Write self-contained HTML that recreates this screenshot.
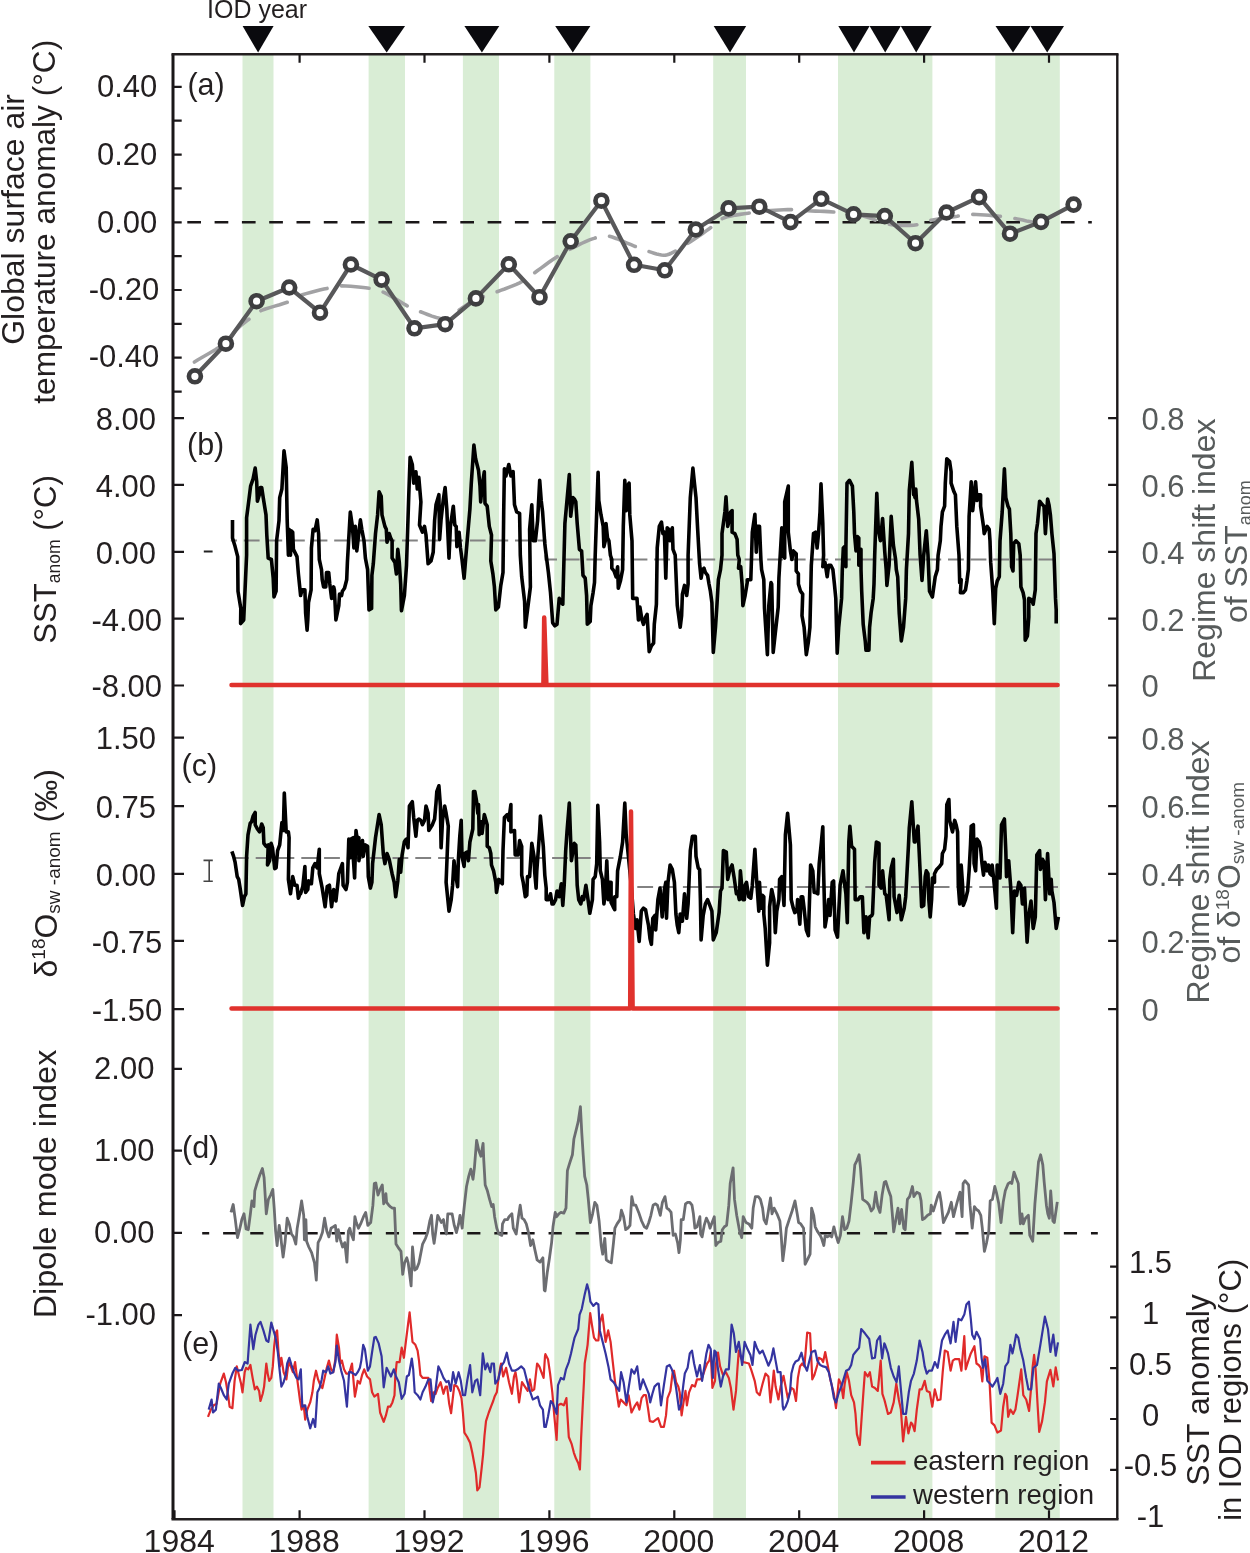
<!DOCTYPE html>
<html><head><meta charset="utf-8"><style>html,body{margin:0;padding:0;background:#fff;width:1250px;height:1553px;overflow:hidden;}svg{display:block;will-change:transform;}</style></head><body>
<svg width="1250" height="1553" viewBox="0 0 1250 1553">
<rect width="1250" height="1553" fill="#fff"/>
<rect x="242.5" y="54.3" width="31.0" height="1465.0" fill="#d9edd5"/>
<rect x="368.6" y="54.3" width="36.4" height="1465.0" fill="#d9edd5"/>
<rect x="462.9" y="54.3" width="36.1" height="1465.0" fill="#d9edd5"/>
<rect x="554.3" y="54.3" width="36.1" height="1465.0" fill="#d9edd5"/>
<rect x="713.2" y="54.3" width="32.8" height="1465.0" fill="#d9edd5"/>
<rect x="838.0" y="54.3" width="94.4" height="1465.0" fill="#d9edd5"/>
<rect x="995.3" y="54.3" width="64.5" height="1465.0" fill="#d9edd5"/>
<polygon points="242.6,26.1 273.6,26.1 258.1,52.6" fill="#0a0a0e"/>
<polygon points="368.3,26.1 405.1,26.1 386.7,52.6" fill="#0a0a0e"/>
<polygon points="464.4,26.1 499.3,26.1 481.9,52.6" fill="#0a0a0e"/>
<polygon points="555.2,26.1 590.4,26.1 572.8,52.6" fill="#0a0a0e"/>
<polygon points="713.7,26.1 746.2,26.1 730.0,52.6" fill="#0a0a0e"/>
<polygon points="838.3,26.1 869.6,26.1 854.0,52.6" fill="#0a0a0e"/>
<polygon points="869.6,26.1 900.8,26.1 885.2,52.6" fill="#0a0a0e"/>
<polygon points="900.8,26.1 931.7,26.1 916.2,52.6" fill="#0a0a0e"/>
<polygon points="995.5,26.1 1030.5,26.1 1013.0,52.6" fill="#0a0a0e"/>
<polygon points="1030.5,26.1 1064,26.1 1047.2,52.6" fill="#0a0a0e"/>
<line x1="187.3" y1="222.2" x2="1091.8" y2="222.2" stroke="#1a1718" stroke-width="2.4" stroke-dasharray="13.7 13.6"/>
<path d="M194.4,362.0 L198.0,359.8 L203.2,356.8 L209.3,353.2 L215.6,349.5 L221.2,345.9 L225.6,342.8 L228.6,340.2 L230.6,337.9 L232.1,335.7 L233.4,333.6 L234.7,331.6 L236.4,329.6 L238.5,327.6 L240.7,325.7 L242.9,323.9 L245.2,322.1 L247.4,320.4 L249.6,318.8 L251.5,317.3 L253.2,315.8 L254.8,314.5 L256.6,313.1 L258.8,311.8 L261.6,310.4 L265.3,309.0 L269.8,307.6 L274.7,306.1 L279.6,304.7 L284.1,303.3 L288.0,302.0 L291.0,300.7 L293.3,299.5 L295.3,298.3 L297.2,297.1 L299.5,295.9 L302.4,294.8 L306.1,293.6 L310.4,292.4 L315.0,291.2 L319.6,290.1 L323.9,289.1 L327.6,288.3 L330.5,287.6 L332.7,287.0 L334.6,286.5 L336.6,286.2 L339.0,286.0 L342.0,285.9 L346.0,286.0 L350.7,286.3 L355.8,286.7 L360.9,287.2 L365.6,287.7 L369.6,288.3 L372.7,288.8 L375.1,289.2 L377.1,289.7 L379.1,290.3 L381.3,291.2 L384.0,292.4 L387.4,294.2 L391.3,296.4 L395.5,298.9 L399.6,301.4 L403.5,303.7 L406.8,305.6 L409.4,307.0 L411.5,308.1 L413.3,309.0 L415.2,309.8 L417.3,310.6 L420.0,311.6 L423.5,312.9 L427.6,314.5 L431.9,316.1 L436.3,317.5 L440.4,318.5 L444.0,318.8 L446.9,318.3 L449.4,317.2 L451.7,315.7 L453.8,313.9 L456.0,312.1 L458.4,310.4 L461.0,308.8 L463.6,307.0 L466.2,305.2 L469.0,303.4 L471.9,301.6 L475.0,300.0 L478.3,298.5 L481.8,297.2 L485.5,295.9 L489.3,294.6 L493.0,293.3 L496.8,291.9 L500.6,290.4 L504.6,289.0 L508.7,287.4 L512.6,285.9 L516.3,284.4 L519.6,282.8 L522.4,281.3 L524.7,279.9 L526.8,278.4 L528.9,276.9 L531.2,275.2 L534.0,273.2 L537.3,270.8 L541.0,268.1 L544.9,265.2 L548.9,262.3 L552.9,259.5 L556.8,256.9 L560.7,254.5 L564.7,252.2 L568.7,250.0 L572.6,247.9 L576.3,246.1 L579.6,244.4 L582.5,243.0 L585.0,241.8 L587.3,240.8 L589.5,239.9 L591.7,239.1 L594.0,238.4 L596.3,237.6 L598.4,236.9 L600.5,236.2 L602.7,235.7 L605.3,235.6 L608.4,236.0 L612.2,237.0 L616.8,238.7 L621.6,240.7 L626.4,242.8 L631.0,244.7 L634.8,246.3 L637.9,247.5 L640.5,248.5 L642.8,249.4 L644.8,250.1 L646.9,250.9 L649.2,251.6 L651.6,252.4 L654.1,253.2 L656.6,254.0 L659.1,254.6 L661.4,255.0 L663.6,255.2 L665.6,255.1 L667.3,254.8 L668.9,254.2 L670.6,253.5 L672.4,252.6 L674.4,251.6 L676.7,250.4 L679.1,249.0 L681.7,247.4 L684.4,245.7 L687.1,243.9 L690.0,242.0 L693.0,240.0 L696.3,237.8 L699.7,235.5 L703.0,233.2 L706.2,230.9 L709.2,228.8 L711.8,226.8 L714.0,224.8 L716.1,222.9 L718.2,221.1 L720.7,219.4 L723.6,218.0 L727.1,216.8 L731.2,215.9 L735.5,215.1 L739.9,214.4 L744.1,213.8 L748.0,213.2 L751.4,212.6 L754.6,212.2 L757.6,211.8 L760.6,211.4 L763.8,211.1 L767.2,210.8 L771.0,210.5 L775.1,210.2 L779.4,210.0 L783.6,209.8 L787.6,209.6 L791.2,209.6 L794.3,209.7 L797.0,209.8 L799.5,210.0 L802.0,210.3 L804.8,210.6 L808.0,210.8 L811.7,211.0 L815.6,211.1 L819.8,211.2 L824.1,211.4 L828.6,211.6 L833.2,212.0 L838.0,212.5 L843.1,213.0 L848.3,213.6 L853.5,214.3 L858.5,215.1 L863.2,216.0 L867.5,217.2 L871.6,218.6 L875.4,220.2 L879.2,221.7 L883.1,223.0 L887.2,224.0 L891.6,224.7 L896.2,225.1 L900.9,225.4 L905.4,225.5 L909.7,225.4 L913.6,225.2 L916.9,224.7 L919.6,224.0 L922.2,223.1 L924.6,222.1 L927.3,221.2 L930.4,220.4 L934.1,219.7 L938.2,219.1 L942.5,218.5 L946.8,217.9 L950.9,217.3 L954.4,216.8 L957.2,216.3 L959.6,215.8 L961.6,215.3 L963.6,214.9 L966.0,214.6 L968.8,214.4 L972.3,214.4 L976.3,214.5 L980.5,214.7 L984.9,215.0 L989.0,215.3 L992.8,215.6 L996.2,215.9 L999.3,216.2 L1002.2,216.6 L1005.1,217.0 L1008.1,217.4 L1011.2,217.9 L1014.8,218.5 L1018.7,219.3 L1022.8,220.1 L1026.5,220.9 L1029.7,221.5 L1032.0,222.0" fill="none" stroke="#a2a2a4" stroke-width="3.6" stroke-dasharray="27.7 14.7" stroke-linecap="round"/>
<path d="M194.9,376.3 L225.9,343.7 L256.6,301.2 L289.2,287.5 L320.0,312.7 L350.9,264.5 L381.6,279.6 L414.5,328.3 L445.2,324.2 L475.9,298.4 L508.8,264.3 L539.5,297.2 L570.7,241.3 L601.4,200.7 L634.1,264.8 L664.8,270.3 L695.8,229.5 L728.6,208.4 L759.3,206.7 L790.5,222.1 L821.2,198.8 L853.6,214.4 L884.8,216.1 L915.5,243.2 L946.5,212.5 L979.1,197.1 L1010.0,233.7 L1041.0,221.9 L1073.6,204.6" fill="none" stroke="#58585a" stroke-width="4.2" stroke-linejoin="round"/>
<circle cx="194.9" cy="376.3" r="5.95" fill="#fff" stroke="#3e3e40" stroke-width="4.7"/>
<circle cx="225.9" cy="343.7" r="5.95" fill="#fff" stroke="#3e3e40" stroke-width="4.7"/>
<circle cx="256.6" cy="301.2" r="5.95" fill="#fff" stroke="#3e3e40" stroke-width="4.7"/>
<circle cx="289.2" cy="287.5" r="5.95" fill="#fff" stroke="#3e3e40" stroke-width="4.7"/>
<circle cx="320" cy="312.7" r="5.95" fill="#fff" stroke="#3e3e40" stroke-width="4.7"/>
<circle cx="350.9" cy="264.5" r="5.95" fill="#fff" stroke="#3e3e40" stroke-width="4.7"/>
<circle cx="381.6" cy="279.6" r="5.95" fill="#fff" stroke="#3e3e40" stroke-width="4.7"/>
<circle cx="414.5" cy="328.3" r="5.95" fill="#fff" stroke="#3e3e40" stroke-width="4.7"/>
<circle cx="445.2" cy="324.2" r="5.95" fill="#fff" stroke="#3e3e40" stroke-width="4.7"/>
<circle cx="475.9" cy="298.4" r="5.95" fill="#fff" stroke="#3e3e40" stroke-width="4.7"/>
<circle cx="508.8" cy="264.3" r="5.95" fill="#fff" stroke="#3e3e40" stroke-width="4.7"/>
<circle cx="539.5" cy="297.2" r="5.95" fill="#fff" stroke="#3e3e40" stroke-width="4.7"/>
<circle cx="570.7" cy="241.3" r="5.95" fill="#fff" stroke="#3e3e40" stroke-width="4.7"/>
<circle cx="601.4" cy="200.7" r="5.95" fill="#fff" stroke="#3e3e40" stroke-width="4.7"/>
<circle cx="634.1" cy="264.8" r="5.95" fill="#fff" stroke="#3e3e40" stroke-width="4.7"/>
<circle cx="664.8" cy="270.3" r="5.95" fill="#fff" stroke="#3e3e40" stroke-width="4.7"/>
<circle cx="695.8" cy="229.5" r="5.95" fill="#fff" stroke="#3e3e40" stroke-width="4.7"/>
<circle cx="728.6" cy="208.4" r="5.95" fill="#fff" stroke="#3e3e40" stroke-width="4.7"/>
<circle cx="759.3" cy="206.7" r="5.95" fill="#fff" stroke="#3e3e40" stroke-width="4.7"/>
<circle cx="790.5" cy="222.1" r="5.95" fill="#fff" stroke="#3e3e40" stroke-width="4.7"/>
<circle cx="821.2" cy="198.8" r="5.95" fill="#fff" stroke="#3e3e40" stroke-width="4.7"/>
<circle cx="853.6" cy="214.4" r="5.95" fill="#fff" stroke="#3e3e40" stroke-width="4.7"/>
<circle cx="884.8" cy="216.1" r="5.95" fill="#fff" stroke="#3e3e40" stroke-width="4.7"/>
<circle cx="915.5" cy="243.2" r="5.95" fill="#fff" stroke="#3e3e40" stroke-width="4.7"/>
<circle cx="946.5" cy="212.5" r="5.95" fill="#fff" stroke="#3e3e40" stroke-width="4.7"/>
<circle cx="979.1" cy="197.1" r="5.95" fill="#fff" stroke="#3e3e40" stroke-width="4.7"/>
<circle cx="1010" cy="233.7" r="5.95" fill="#fff" stroke="#3e3e40" stroke-width="4.7"/>
<circle cx="1041" cy="221.9" r="5.95" fill="#fff" stroke="#3e3e40" stroke-width="4.7"/>
<circle cx="1073.6" cy="204.6" r="5.95" fill="#fff" stroke="#3e3e40" stroke-width="4.7"/>
<path d="M230.8,540.4 H545.4 V559.4 H1058" fill="none" stroke="#828282" stroke-width="2" stroke-dasharray="15.8 6.8" stroke-dashoffset="9.6"/>
<path d="M232.5,519.9 L232.5,519.9 L232.5,537.9 L235.1,546.6 L237.7,556.6 L238.0,591.2 L240.8,608.5 L240.6,623.6 L243.7,620.0 L246.6,555.2 L246.6,517.8 L249.2,497.6 L250.6,486.1 L253.1,478.9 L255.2,468.1 L256.7,481.8 L257.4,501.2 L259.3,494.7 L260.3,487.5 L261.7,487.5 L263.2,497.6 L266.0,514.9 L266.8,535.0 L268.2,558.1 L271.4,559.5 L273.2,578.2 L274.0,597.0 L276.1,591.2 L276.6,540.8 L279.0,520.6 L279.7,497.6 L281.9,489.0 L284.0,450.8 L286.2,467.4 L287.2,520.6 L288.4,555.2 L289.1,529.3 L290.5,555.2 L291.2,530.7 L292.7,532.2 L293.4,549.4 L297.0,556.6 L298.4,573.9 L300.6,595.5 L302.0,589.8 L304.9,589.8 L305.6,612.8 L307.1,630.1 L307.8,620.0 L308.5,602.7 L311.1,589.8 L311.4,548.0 L313.1,529.3 L315.0,530.7 L317.2,519.9 L318.6,533.6 L319.3,559.5 L321.5,569.6 L322.2,579.7 L323.6,586.9 L325.8,586.9 L326.5,572.5 L328.7,572.5 L329.8,584.0 L331.6,598.4 L333.7,586.9 L334.4,589.8 L335.9,620.0 L338.8,605.6 L339.5,594.1 L341.6,595.5 L342.4,591.2 L344.5,588.3 L346.7,579.7 L347.4,562.4 L348.8,537.9 L350.3,512.0 L352.4,526.4 L353.9,548.0 L355.3,526.4 L356.8,550.9 L358.9,532.2 L360.4,519.9 L361.8,529.3 L364.0,540.8 L365.4,558.1 L367.6,569.6 L369.0,609.9 L371.6,608.5 L371.9,575.4 L373.3,563.8 L375.5,533.6 L377.6,514.9 L379.1,491.8 L381.2,496.2 L382.0,514.9 L384.9,526.4 L386.3,529.3 L387.0,542.2 L389.2,533.6 L390.6,537.9 L392.1,540.8 L392.1,558.1 L394.9,562.4 L396.4,573.9 L397.8,549.4 L399.3,562.4 L400.7,584.0 L401.4,609.9 L401.5,610.7 L404.4,595.5 L406.5,565.3 L408.7,497.6 L410.1,457.3 L412.3,464.5 L413.7,483.2 L415.9,471.7 L417.3,489.0 L418.8,477.4 L420.9,501.9 L419.5,525.0 L422.4,532.2 L424.5,526.4 L426.0,535.0 L428.1,563.8 L431.0,561.0 L433.2,552.3 L434.6,520.6 L436.0,504.8 L438.9,494.7 L439.6,539.4 L441.1,519.2 L443.2,500.5 L445.1,487.5 L446.8,509.1 L449.0,558.1 L450.4,526.4 L453.3,506.2 L454.8,525.0 L456.2,526.4 L456.9,546.6 L459.1,532.2 L460.5,548.0 L462.0,559.5 L464.1,578.2 L465.6,559.5 L468.4,526.4 L469.9,509.1 L471.3,483.2 L473.9,445.0 L475.6,458.7 L478.5,470.2 L480.0,486.1 L480.7,501.9 L482.1,486.1 L484.3,471.7 L485.0,503.4 L487.2,506.2 L489.3,526.4 L491.5,535.0 L490.8,561.0 L492.9,573.9 L494.4,586.9 L495.8,609.9 L498.4,607.1 L500.8,585.4 L503.0,572.5 L503.7,512.0 L504.4,468.8 L505.9,476.0 L508.8,464.5 L510.9,476.0 L513.1,471.7 L514.5,504.8 L516.7,512.0 L519.6,513.4 L520.3,555.2 L521.7,576.8 L524.6,601.3 L525.3,627.2 L527.5,609.9 L530.4,586.9 L529.6,529.3 L531.8,504.8 L533.2,540.8 L535.4,540.8 L537.6,520.6 L539.7,480.3 L541.2,500.5 L542.6,512.0 L544.8,543.7 L546.2,555.2 L548.4,572.5 L550.5,592.6 L552.7,622.9 L554.9,625.8 L557.0,624.3 L559.2,598.4 L561.3,602.7 L562.8,604.2 L564.9,523.5 L569.3,474.6 L570.7,516.3 L572.9,497.6 L574.4,499.0 L575.8,501.9 L577.2,523.5 L579.4,549.4 L581.6,550.9 L583.0,575.4 L585.2,578.2 L586.6,595.5 L587.3,624.3 L590.2,621.5 L590.9,605.6 L593.1,592.6 L594.5,582.6 L595.2,555.2 L596.7,512.0 L598.1,472.4 L598.8,500.5 L601.0,514.9 L603.2,526.4 L603.9,546.6 L605.3,540.8 L606.0,523.5 L607.5,537.9 L608.9,540.8 L610.4,555.2 L611.8,559.5 L611.8,568.2 L614.0,571.0 L616.1,576.8 L617.6,566.7 L618.3,588.3 L620.4,581.1 L622.6,569.6 L623.3,526.4 L624.8,480.3 L626.2,510.6 L627.6,486.1 L629.1,483.2 L629.8,514.9 L632.0,540.8 L632.7,598.4 L635.6,598.4 L637.0,598.4 L638.4,620.0 L639.9,607.1 L642.0,620.0 L643.5,624.3 L645.6,617.1 L647.1,614.3 L649.2,651.7 L651.4,645.9 L653.6,643.1 L654.3,624.3 L656.4,604.2 L657.2,548.0 L659.3,526.4 L661.5,522.1 L662.9,533.6 L664.4,532.2 L665.8,578.2 L667.2,527.8 L668.7,529.3 L670.1,540.8 L672.3,527.8 L673.0,549.4 L675.2,555.2 L677.3,605.6 L680.2,627.2 L681.6,615.7 L682.4,594.1 L684.5,585.4 L686.7,595.5 L688.1,584.0 L688.1,555.2 L690.3,497.6 L692.9,468.1 L694.6,484.6 L696.0,497.6 L697.5,526.4 L699.6,563.8 L701.1,578.2 L702.5,569.6 L704.0,568.2 L705.4,572.5 L707.6,575.4 L709.0,584.0 L710.4,591.2 L711.9,602.7 L713.3,652.4 L715.5,627.2 L716.9,605.6 L718.4,579.7 L720.5,569.6 L722.0,555.2 L722.0,533.6 L724.9,512.0 L726.0,496.9 L727.7,526.4 L729.2,520.6 L730.6,512.0 L732.1,510.6 L732.1,532.2 L734.9,533.6 L737.1,539.4 L737.8,555.2 L739.3,559.5 L738.5,568.2 L740.7,566.7 L742.1,584.0 L742.9,605.6 L745.1,595.5 L747.2,582.6 L747.2,579.7 L750.8,579.7 L751.6,555.2 L752.3,532.2 L754.9,514.2 L756.3,552.3 L757.3,526.4 L759.5,526.4 L760.9,559.5 L761.6,569.6 L763.8,579.7 L764.5,608.5 L767.4,654.6 L768.8,605.6 L771.0,582.6 L771.7,584.0 L773.2,652.4 L775.3,633.0 L778.2,607.1 L778.9,578.2 L781.8,527.8 L782.5,555.2 L784.7,558.1 L784.7,501.9 L788.3,486.1 L788.3,532.2 L790.4,550.9 L791.9,559.5 L793.3,550.9 L796.2,553.8 L796.2,571.0 L798.4,573.9 L798.4,584.0 L800.5,591.2 L802.7,594.1 L802.0,615.7 L804.1,627.2 L806.3,654.6 L808.4,641.6 L809.9,627.2 L810.6,598.4 L811.3,565.3 L813.5,533.6 L815.6,532.2 L817.1,548.0 L818.5,533.6 L820.0,512.0 L821.0,483.9 L822.8,523.5 L823.6,555.2 L822.8,566.7 L825.0,562.4 L827.2,576.8 L828.6,565.3 L830.8,565.3 L832.9,569.6 L834.4,584.0 L835.8,598.4 L836.5,627.2 L837.2,653.1 L838.7,627.2 L841.6,598.4 L842.3,569.6 L843.3,548.0 L844.7,546.6 L845.9,566.7 L845.9,546.6 L847.0,483.2 L849.5,480.3 L852.4,486.1 L853.8,512.0 L854.5,533.6 L856.0,550.9 L857.4,536.5 L858.8,537.9 L858.8,565.3 L861.0,549.4 L861.0,569.6 L861.7,591.2 L863.2,624.3 L865.3,641.6 L866.0,650.3 L868.9,650.3 L869.6,627.2 L871.1,612.8 L873.2,598.4 L874.0,584.0 L874.7,555.2 L876.8,493.3 L878.3,529.3 L880.4,540.8 L882.6,518.5 L884.8,552.3 L886.2,569.6 L886.9,585.4 L889.1,565.3 L891.2,516.3 L893.4,545.1 L895.6,559.5 L896.3,569.6 L897.7,576.8 L899.2,612.8 L901.3,640.9 L903.5,627.2 L905.7,598.4 L906.4,569.6 L908.5,533.6 L909.3,490.4 L911.8,462.3 L913.6,494.7 L913.6,493.3 L915.1,497.6 L915.8,489.0 L916.5,500.5 L918.7,519.2 L920.1,555.2 L922.0,580.4 L923.7,555.2 L926.3,530.7 L928.0,555.2 L929.5,591.2 L932.4,597.0 L935.2,576.8 L937.4,569.6 L938.1,555.2 L940.3,540.8 L941.0,526.4 L942.4,512.0 L944.6,506.2 L945.3,483.2 L946.8,458.7 L949.6,461.6 L951.1,471.7 L951.1,483.2 L954.0,491.8 L955.4,494.7 L956.8,526.4 L959.0,555.2 L959.7,582.6 L961.2,579.7 L960.4,592.6 L963.3,592.6 L965.5,589.8 L966.9,581.1 L968.4,569.6 L969.1,516.3 L971.2,481.8 L972.7,510.6 L975.6,481.8 L977.0,500.5 L978.4,494.7 L980.6,494.7 L980.6,506.2 L983.5,526.4 L984.2,533.6 L987.1,526.4 L989.2,529.3 L990.0,540.8 L990.7,562.4 L992.8,591.2 L994.3,623.6 L995.7,588.3 L997.2,581.1 L999.3,576.8 L1000.0,540.8 L1002.2,512.0 L1004.4,468.8 L1005.8,497.6 L1008.0,506.2 L1009.4,509.1 L1010.8,533.6 L1011.6,566.7 L1013.0,571.0 L1013.7,543.7 L1015.9,540.8 L1018.8,543.7 L1020.2,555.2 L1020.9,586.9 L1023.1,592.6 L1024.5,599.9 L1025.2,640.2 L1027.4,635.9 L1028.8,617.1 L1028.8,598.4 L1031.7,599.9 L1033.2,604.2 L1035.3,589.8 L1036.0,533.6 L1037.5,523.5 L1039.6,501.2 L1042.5,504.8 L1044.0,506.2 L1045.4,533.6 L1046.1,522.1 L1047.6,499.0 L1049.0,504.8 L1050.4,514.9 L1051.9,533.6 L1054.0,553.8 L1055.5,598.4 L1056.2,609.9 L1056.2,623.6" fill="none" stroke="#000" stroke-width="3.6" stroke-linejoin="round"/>
<path d="M231.5,685.1 H543.4 L544.2,617.6 L546.4,685.1 H1057.6" fill="none" stroke="#e0322d" stroke-width="4.5" stroke-linecap="round" stroke-linejoin="round"/>
<line x1="203.8" y1="551.5" x2="212.6" y2="551.5" stroke="#222" stroke-width="2"/>
<path d="M232.9,858.1 H631 V886.9 H1058" fill="none" stroke="#828282" stroke-width="2" stroke-dasharray="15.8 7"/>
<path d="M231.9,851.4 L231.9,851.4 L233.6,856.4 L235.1,862.2 L237.2,876.6 L238.7,879.4 L240.1,888.1 L242.6,905.4 L244.4,896.7 L245.9,893.8 L246.6,856.4 L248.0,834.8 L250.2,823.3 L251.6,821.8 L253.1,816.1 L255.2,812.5 L255.2,824.7 L257.4,829.0 L259.6,831.9 L261.7,824.0 L263.2,827.6 L263.9,843.4 L266.0,846.3 L268.2,844.9 L267.5,865.0 L269.6,860.7 L271.1,843.4 L272.5,847.8 L274.7,868.6 L276.1,867.9 L277.6,850.6 L279.7,844.9 L281.9,822.6 L283.3,830.5 L284.3,793.0 L286.2,831.9 L288.4,831.9 L289.1,837.7 L288.4,879.4 L290.5,893.8 L292.7,876.6 L294.8,885.2 L297.0,885.2 L298.4,898.2 L299.9,893.8 L300.6,893.8 L302.8,886.6 L304.9,866.5 L305.6,892.4 L307.8,889.5 L308.5,880.9 L310.0,883.8 L311.4,883.8 L312.8,867.9 L315.0,863.6 L317.2,867.9 L319.3,849.2 L319.3,873.7 L322.2,888.1 L325.1,906.8 L327.2,886.6 L329.4,885.2 L331.6,906.8 L333.7,889.5 L335.9,901.0 L338.0,882.3 L338.8,873.7 L342.4,863.6 L343.1,885.2 L346.0,889.5 L347.4,882.3 L348.8,839.1 L350.3,857.8 L351.0,839.1 L353.2,837.7 L353.2,856.4 L354.6,878.0 L356.0,830.5 L357.5,842.0 L358.9,837.7 L358.9,860.7 L361.1,846.3 L362.5,840.6 L363.2,856.4 L365.4,844.9 L367.6,846.3 L368.3,876.6 L370.4,888.1 L371.9,882.3 L372.6,863.6 L375.5,837.7 L379.1,814.6 L381.2,824.7 L383.4,855.0 L384.9,863.6 L387.0,853.5 L389.2,859.3 L392.1,873.7 L394.2,882.3 L395.7,896.7 L397.8,880.9 L399.3,859.3 L400.7,872.2 L402.1,855.0 L404.3,842.0 L405.1,840.6 L406.5,839.1 L408.0,847.8 L408.7,827.6 L409.4,806.0 L412.3,801.7 L413.7,817.5 L415.9,836.2 L417.3,820.4 L418.8,819.0 L420.9,820.4 L422.4,824.7 L424.5,820.4 L426.0,806.0 L428.1,813.2 L428.8,830.5 L432.4,824.7 L434.6,819.0 L436.0,803.1 L436.8,791.6 L438.9,785.8 L440.4,806.0 L441.1,847.8 L442.5,820.4 L444.7,806.0 L446.1,813.2 L448.3,826.2 L446.1,882.3 L449.0,911.1 L451.2,899.6 L452.6,885.2 L454.0,860.7 L455.5,873.7 L457.6,886.6 L458.4,859.3 L459.8,836.2 L461.2,820.4 L462.0,856.4 L464.1,866.5 L464.8,853.5 L467.0,852.1 L468.4,860.7 L469.9,842.0 L472.8,829.0 L473.5,791.6 L474.9,791.6 L476.4,800.2 L477.8,813.2 L478.5,804.6 L479.2,834.8 L481.4,821.8 L482.1,833.4 L484.3,814.6 L487.2,824.7 L487.2,846.3 L489.3,847.8 L490.8,853.5 L491.5,865.0 L493.6,870.8 L495.8,882.3 L496.5,892.4 L498.7,879.4 L500.8,882.3 L502.3,883.8 L503.0,850.6 L504.4,817.5 L507.3,814.6 L508.8,820.4 L510.9,804.6 L510.9,831.9 L514.5,830.5 L515.2,855.0 L518.1,855.0 L519.6,840.6 L521.7,846.3 L521.7,875.1 L523.2,882.3 L525.3,896.7 L526.8,895.3 L527.5,876.6 L529.6,876.6 L531.8,843.4 L534.0,856.4 L534.7,872.2 L536.1,888.1 L536.8,870.8 L539.7,830.5 L540.4,816.1 L543.3,846.3 L544.8,875.1 L546.2,888.1 L546.2,899.6 L548.4,899.6 L550.5,893.8 L552.0,903.9 L553.4,903.9 L555.6,899.6 L557.0,891.0 L559.2,896.7 L561.3,883.8 L562.8,905.4 L564.2,885.2 L565.7,850.6 L567.1,830.5 L569.3,803.1 L571.4,860.7 L574.3,843.4 L575.8,844.9 L576.5,862.2 L577.2,885.2 L578.7,899.6 L580.8,903.9 L582.3,896.7 L583.7,899.6 L585.9,885.2 L588.0,899.6 L589.8,913.3 L592.4,899.6 L593.1,879.4 L595.2,876.6 L596.7,863.6 L597.8,805.3 L599.6,842.0 L600.3,870.8 L602.4,879.4 L603.9,903.9 L605.3,893.8 L606.8,860.7 L608.2,899.6 L609.6,882.3 L611.1,882.3 L611.1,902.5 L613.2,906.8 L614.7,909.7 L614.7,896.7 L616.8,896.7 L617.6,870.8 L619.0,863.6 L620.4,856.4 L622.6,842.0 L624.8,803.1 L626.2,834.8 L628.4,856.4 L631.2,885.2 L633.4,914.0 L635.6,928.4 L637.0,919.8 L639.2,941.4 L641.3,911.1 L643.5,908.2 L645.6,909.7 L647.1,918.3 L648.5,925.5 L650.0,938.5 L651.4,944.3 L652.8,918.3 L655.0,915.4 L655.7,929.9 L657.9,899.6 L660.0,888.1 L662.2,916.9 L664.4,889.5 L665.8,882.3 L666.5,918.3 L668.0,882.3 L670.1,865.0 L672.3,869.4 L674.4,882.3 L675.9,914.0 L677.3,925.5 L678.8,932.7 L680.2,914.0 L682.4,921.2 L684.5,893.8 L686.7,918.3 L688.1,903.9 L690.3,850.6 L692.4,836.2 L695.3,836.2 L696.0,856.4 L698.2,867.9 L699.6,869.4 L700.4,899.6 L701.1,939.9 L703.2,915.4 L705.4,903.9 L707.6,899.6 L710.4,906.8 L711.9,911.1 L713.3,939.9 L716.2,932.7 L719.1,912.6 L720.5,891.0 L722.0,888.1 L723.4,850.6 L726.3,852.1 L727.7,879.4 L729.9,869.4 L732.1,865.0 L734.2,878.0 L736.4,893.8 L737.8,892.4 L739.3,899.6 L740.4,870.8 L742.9,899.6 L744.4,899.6 L745.1,885.2 L746.5,882.3 L748.7,896.7 L750.8,898.2 L752.3,885.2 L754.9,849.2 L756.6,879.4 L758.8,911.1 L759.5,882.3 L760.9,908.2 L762.4,895.3 L763.8,896.7 L763.8,914.0 L765.2,928.4 L767.4,965.1 L769.6,942.8 L769.6,906.8 L771.7,889.5 L773.9,899.6 L775.3,932.7 L776.8,911.1 L778.9,899.6 L779.6,879.4 L781.8,876.6 L784.0,905.4 L785.4,834.8 L787.6,813.2 L789.0,829.0 L790.4,844.9 L791.2,899.6 L793.3,908.2 L794.8,912.6 L796.9,911.1 L797.6,899.6 L799.8,924.1 L801.2,896.7 L802.7,896.7 L804.1,908.2 L806.3,929.9 L808.4,935.6 L810.6,865.0 L812.8,870.8 L814.2,892.4 L815.6,892.4 L817.8,893.8 L819.2,863.6 L821.4,842.0 L822.8,826.9 L823.6,870.8 L825.0,927.0 L827.2,914.0 L828.6,899.6 L830.0,915.4 L832.2,882.3 L833.6,880.9 L835.1,929.9 L837.5,937.1 L840.1,885.2 L843.0,870.8 L844.4,882.3 L845.9,893.8 L847.3,922.6 L848.8,842.0 L849.9,826.2 L851.6,846.3 L854.5,849.2 L855.2,899.6 L858.1,899.6 L860.3,896.7 L862.4,896.7 L863.9,932.7 L866.0,916.9 L868.2,937.8 L869.6,916.9 L871.8,915.4 L872.5,914.0 L874.7,862.2 L876.4,842.0 L879.0,843.4 L879.0,885.2 L881.2,888.1 L882.6,870.8 L884.8,893.8 L886.2,895.3 L889.1,919.8 L889.8,879.4 L891.2,867.9 L893.4,859.3 L894.1,896.7 L897.0,912.6 L899.2,895.3 L901.3,919.8 L904.2,908.2 L905.7,896.7 L907.1,870.8 L908.5,844.9 L909.3,827.6 L911.8,801.7 L914.3,842.0 L915.1,842.0 L916.5,833.4 L918.0,826.2 L918.7,842.0 L920.1,870.8 L921.6,906.8 L923.7,905.4 L925.2,876.6 L926.3,870.8 L928.0,873.7 L928.8,899.6 L930.2,916.9 L931.6,899.6 L932.4,878.0 L934.5,882.3 L934.5,873.7 L936.7,869.4 L939.6,866.5 L941.7,863.6 L942.4,853.5 L944.6,849.2 L946.0,836.2 L946.8,804.6 L948.9,799.5 L949.6,820.4 L951.1,826.2 L952.5,831.9 L954.7,820.4 L956.1,824.7 L957.6,831.9 L958.3,885.2 L959.7,903.9 L961.2,865.0 L962.6,885.2 L963.3,905.4 L965.5,899.6 L967.6,891.0 L969.1,870.8 L970.5,844.9 L971.2,826.2 L973.4,824.7 L974.1,863.6 L975.6,870.8 L977.0,839.1 L979.2,842.0 L980.6,847.8 L982.0,863.6 L983.5,875.1 L984.9,862.2 L987.1,870.8 L988.5,865.0 L990.0,873.7 L991.4,875.1 L992.1,865.0 L993.6,878.0 L995.0,892.4 L996.4,908.2 L997.2,865.0 L1000.0,878.0 L1001.5,824.7 L1004.4,819.0 L1005.8,850.6 L1006.5,876.6 L1008.7,860.7 L1010.8,888.1 L1012.7,932.7 L1014.4,891.0 L1016.6,895.3 L1018.8,882.3 L1020.9,885.2 L1022.4,903.9 L1024.5,888.1 L1027.1,942.1 L1028.8,915.4 L1031.0,901.0 L1033.2,928.4 L1035.3,916.9 L1036.8,855.0 L1039.6,850.6 L1040.4,869.4 L1042.5,859.3 L1044.0,862.2 L1045.4,899.6 L1047.6,853.5 L1049.7,893.8 L1051.2,879.4 L1051.9,891.0 L1054.0,902.5 L1056.2,928.4 L1058.4,916.9" fill="none" stroke="#000" stroke-width="3.6" stroke-linejoin="round"/>
<path d="M231.5,1008.4 H630.2 L631.0,811.5 L632.6,1008.4 H1057.6" fill="none" stroke="#e0322d" stroke-width="4.5" stroke-linecap="round" stroke-linejoin="round"/>
<path d="M203.5,860.4 H212.8 M209.2,860.4 V881.3 M203.5,881.3 H212.8" stroke="#444" stroke-width="1.6" fill="none"/>
<line x1="202.2" y1="1233.3" x2="1097.8" y2="1233.3" stroke="#1a1718" stroke-width="2.4" stroke-dasharray="13.2 13.92" stroke-dashoffset="6.2"/>
<path d="M231.0,1212.4 L231.0,1212.4 L233.2,1204.5 L235.3,1219.6 L237.5,1237.6 L239.6,1229.7 L241.8,1219.6 L244.0,1213.8 L246.1,1229.0 L248.3,1229.7 L250.4,1213.8 L251.9,1200.9 L254.0,1206.6 L254.8,1190.8 L256.9,1183.6 L259.8,1175.0 L262.4,1168.5 L264.1,1177.8 L266.3,1213.8 L268.4,1199.4 L270.6,1195.1 L272.8,1189.4 L274.2,1208.1 L275.6,1231.1 L277.1,1245.5 L279.2,1225.4 L280.7,1235.4 L281.4,1242.6 L283.1,1257.1 L285.0,1242.6 L287.2,1218.2 L289.3,1223.9 L291.5,1234.0 L293.6,1236.9 L295.8,1244.1 L297.2,1228.2 L299.4,1215.3 L301.6,1200.9 L303.7,1215.3 L304.4,1239.8 L305.9,1219.6 L306.6,1241.2 L308.8,1247.0 L311.6,1252.7 L314.5,1262.8 L316.3,1280.1 L317.4,1255.6 L318.1,1242.6 L320.3,1238.3 L322.4,1232.6 L324.6,1218.2 L326.8,1231.1 L328.9,1236.9 L331.1,1228.2 L333.2,1226.8 L335.4,1225.4 L336.8,1241.2 L338.3,1229.7 L340.4,1239.8 L342.6,1247.0 L344.8,1242.6 L346.9,1262.1 L348.4,1231.1 L349.8,1228.2 L351.2,1234.0 L353.4,1239.8 L354.9,1216.7 L356.3,1222.5 L358.5,1228.2 L360.6,1223.9 L363.5,1216.7 L365.7,1212.4 L367.8,1225.4 L370.7,1222.5 L372.9,1205.2 L374.3,1183.6 L375.8,1182.9 L378.0,1195.1 L380.1,1189.4 L382.3,1185.0 L383.7,1203.8 L385.9,1193.7 L386.6,1202.3 L388.8,1205.2 L390.2,1206.6 L392.4,1208.1 L394.5,1208.1 L396.0,1244.1 L398.8,1248.4 L401.0,1251.3 L402.7,1274.3 L404.6,1262.8 L406.8,1257.8 L408.2,1262.8 L411.1,1285.9 L412.5,1247.0 L414.7,1270.0 L416.8,1268.6 L419.0,1262.8 L422.6,1244.1 L425.5,1238.3 L427.6,1232.6 L429.8,1221.0 L431.5,1215.3 L432.7,1234.0 L434.1,1243.4 L435.6,1232.6 L437.7,1215.3 L439.9,1219.6 L441.3,1222.5 L443.5,1219.6 L444.2,1225.4 L446.4,1234.0 L447.8,1213.8 L450.0,1213.8 L452.1,1213.8 L454.3,1225.4 L456.4,1232.6 L458.6,1223.9 L460.0,1215.3 L462.2,1228.2 L462.9,1219.6 L464.4,1205.2 L466.5,1186.5 L468.7,1176.4 L470.8,1169.2 L473.0,1179.3 L474.4,1167.8 L476.6,1140.4 L478.8,1150.5 L480.9,1156.2 L483.1,1143.3 L483.8,1160.6 L485.2,1185.0 L487.4,1190.8 L489.6,1199.4 L491.7,1206.6 L493.2,1204.5 L494.6,1216.7 L496.8,1228.2 L498.9,1234.0 L501.8,1235.4 L502.5,1223.9 L504.7,1219.6 L507.6,1219.6 L509.0,1216.7 L511.9,1213.8 L513.3,1228.2 L516.2,1234.0 L518.4,1216.7 L520.2,1205.2 L522.0,1218.2 L524.1,1219.6 L526.3,1223.9 L528.5,1232.6 L530.6,1245.5 L532.8,1239.8 L534.9,1249.9 L537.1,1259.9 L540.0,1262.1 L542.9,1257.8 L544.3,1290.2 L545.1,1290.9 L547.2,1272.9 L549.4,1258.5 L551.6,1242.6 L553.0,1226.8 L555.2,1212.4 L556.6,1216.7 L558.8,1213.8 L560.9,1212.4 L563.8,1213.1 L566.0,1208.1 L567.4,1170.6 L569.6,1163.4 L572.4,1154.8 L573.9,1139.0 L576.8,1127.4 L578.2,1121.7 L580.4,1106.6 L581.8,1133.2 L583.2,1154.8 L584.7,1176.4 L586.8,1185.0 L588.3,1199.4 L590.4,1222.5 L592.6,1213.8 L594.8,1202.3 L596.9,1205.2 L599.1,1221.0 L601.2,1245.5 L602.7,1254.2 L604.8,1238.3 L606.3,1259.9 L608.4,1261.4 L611.3,1262.8 L613.5,1242.6 L614.9,1228.2 L617.1,1223.9 L620.0,1219.6 L621.4,1210.2 L623.6,1216.7 L625.7,1229.7 L627.9,1228.2 L630.0,1225.4 L631.8,1196.6 L633.6,1205.2 L635.8,1205.2 L638.7,1212.4 L641.6,1221.0 L644.4,1226.8 L646.6,1228.2 L648.8,1222.5 L650.9,1215.3 L653.1,1205.2 L655.2,1203.8 L657.4,1205.2 L660.3,1215.3 L662.4,1202.3 L665.0,1196.6 L666.8,1208.1 L668.9,1209.5 L671.1,1212.4 L672.5,1228.2 L673.2,1235.4 L675.4,1234.0 L677.6,1242.6 L679.0,1252.7 L680.4,1239.8 L681.2,1219.6 L683.3,1219.6 L685.5,1203.8 L687.6,1202.3 L689.8,1202.3 L692.0,1205.2 L693.4,1213.8 L694.9,1228.2 L697.0,1226.8 L699.9,1216.7 L700.6,1234.0 L702.1,1236.9 L704.2,1225.4 L706.4,1218.2 L708.5,1222.5 L710.0,1228.2 L712.1,1222.5 L714.3,1216.7 L715.8,1245.5 L718.0,1242.6 L720.8,1241.2 L722.3,1229.7 L724.4,1226.8 L726.6,1225.4 L728.8,1205.2 L730.2,1183.6 L733.1,1167.8 L734.5,1199.4 L736.7,1215.3 L739.6,1231.1 L741.7,1237.6 L743.2,1216.7 L746.0,1222.5 L748.9,1223.9 L751.8,1228.2 L753.2,1208.1 L755.4,1196.6 L758.3,1196.6 L760.4,1199.4 L762.6,1208.1 L764.0,1219.6 L766.2,1223.9 L768.4,1211.0 L770.5,1198.0 L772.0,1213.8 L774.1,1208.1 L777.0,1213.8 L779.9,1221.0 L781.3,1236.9 L782.8,1260.7 L784.9,1244.1 L786.4,1228.2 L789.2,1219.6 L792.1,1211.0 L795.0,1200.9 L797.2,1213.8 L798.6,1222.5 L800.8,1223.9 L803.6,1228.2 L804.4,1248.4 L805.1,1264.3 L808.0,1258.5 L810.1,1254.2 L811.6,1208.1 L813.7,1215.3 L815.2,1226.8 L817.3,1231.1 L820.2,1235.4 L821.6,1238.3 L823.8,1245.5 L825.2,1235.4 L827.4,1236.9 L829.6,1235.4 L831.7,1236.9 L833.9,1226.8 L836.0,1235.4 L838.2,1242.6 L840.4,1235.4 L842.5,1216.7 L844.7,1229.7 L846.8,1228.2 L849.0,1221.0 L851.2,1202.3 L853.3,1182.2 L854.8,1164.9 L856.9,1160.6 L859.1,1154.8 L860.5,1167.8 L862.7,1199.4 L864.9,1200.9 L867.0,1202.3 L869.2,1205.2 L871.3,1211.0 L873.5,1208.1 L875.7,1192.2 L877.8,1206.6 L880.0,1212.4 L882.1,1195.1 L884.3,1182.2 L885.8,1181.4 L888.7,1190.8 L890.8,1196.6 L892.3,1213.8 L893.7,1231.8 L895.9,1219.6 L898.0,1208.1 L899.5,1223.9 L901.6,1209.5 L903.8,1228.2 L905.2,1229.7 L907.4,1199.4 L909.6,1196.6 L912.4,1186.5 L913.9,1196.6 L916.8,1192.2 L919.6,1193.7 L921.1,1200.9 L922.5,1219.6 L924.7,1218.2 L927.6,1215.3 L930.4,1213.8 L931.2,1205.2 L933.3,1211.0 L935.5,1203.8 L937.6,1196.6 L939.5,1192.2 L941.2,1202.3 L943.4,1222.5 L946.3,1216.7 L948.4,1212.4 L951.3,1202.3 L953.5,1216.7 L955.6,1208.1 L957.1,1202.3 L960.0,1192.2 L962.1,1216.7 L963.1,1183.6 L965.0,1180.7 L968.6,1185.0 L970.0,1205.2 L972.2,1228.2 L974.4,1206.6 L976.5,1209.5 L978.7,1211.0 L980.8,1215.3 L982.3,1228.2 L984.4,1251.3 L986.6,1242.6 L988.8,1231.1 L990.2,1200.9 L992.4,1199.4 L994.8,1186.5 L996.7,1193.7 L998.8,1203.8 L1001.0,1222.5 L1003.2,1202.3 L1005.3,1190.8 L1008.2,1183.6 L1010.4,1182.2 L1011.8,1183.6 L1014.0,1172.1 L1016.1,1177.8 L1018.3,1183.6 L1019.7,1213.8 L1020.4,1223.9 L1021.9,1213.8 L1023.3,1223.9 L1025.5,1218.2 L1028.4,1215.3 L1029.8,1235.4 L1032.7,1241.2 L1034.9,1203.8 L1037.0,1179.3 L1038.5,1162.0 L1040.6,1154.8 L1042.8,1164.9 L1044.2,1182.2 L1046.4,1205.2 L1047.8,1213.8 L1049.3,1218.2 L1050.7,1190.8 L1052.9,1221.0 L1054.3,1222.5 L1057.3,1201.9" fill="none" stroke="#6c6d71" stroke-width="2.8" stroke-linejoin="round"/>
<path d="M208.0,1416.8 L208.0,1416.8 L210.8,1409.6 L213.7,1405.3 L216.6,1403.8 L220.2,1383.7 L223.8,1373.6 L226.0,1382.2 L228.1,1395.2 L229.6,1406.7 L232.4,1408.2 L234.6,1380.8 L236.8,1366.4 L238.9,1375.0 L241.1,1383.7 L242.5,1392.3 L244.7,1372.2 L246.1,1367.8 L248.3,1369.3 L250.4,1365.0 L252.6,1377.9 L254.8,1389.4 L256.9,1386.6 L259.1,1390.9 L260.5,1401.0 L262.7,1393.8 L264.1,1386.6 L266.3,1363.5 L267.7,1373.6 L269.2,1380.8 L271.3,1377.9 L272.8,1366.4 L274.2,1346.2 L275.6,1333.3 L277.1,1330.4 L278.5,1352.0 L280.0,1366.4 L281.4,1357.8 L283.6,1372.2 L286.4,1379.4 L288.6,1362.1 L290.8,1366.4 L292.9,1372.2 L295.1,1362.1 L296.5,1373.6 L298.0,1385.1 L300.1,1401.0 L301.6,1409.6 L303.7,1405.3 L305.2,1419.7 L307.3,1409.6 L310.2,1402.4 L312.4,1392.3 L313.8,1380.8 L316.0,1370.7 L318.1,1379.4 L320.3,1385.1 L322.4,1388.0 L324.6,1377.9 L326.8,1367.8 L328.9,1360.6 L331.1,1369.3 L333.2,1372.2 L335.4,1359.2 L336.8,1334.7 L339.0,1347.7 L340.4,1363.5 L341.9,1360.6 L344.0,1369.3 L346.2,1373.6 L349.1,1373.6 L352.0,1363.5 L354.9,1396.6 L356.3,1389.4 L357.7,1380.8 L359.9,1383.7 L362.1,1375.0 L364.2,1369.3 L367.1,1376.5 L370.0,1379.4 L372.1,1392.3 L374.3,1396.6 L378.0,1393.8 L380.1,1412.5 L383.7,1421.8 L385.9,1415.4 L388.0,1406.7 L390.2,1406.7 L392.4,1402.4 L394.5,1395.2 L395.2,1377.9 L396.7,1362.1 L399.6,1362.1 L401.7,1347.7 L403.9,1357.8 L406.0,1340.5 L408.2,1323.2 L409.6,1312.4 L411.1,1327.5 L412.5,1341.9 L415.4,1344.8 L417.6,1350.6 L419.0,1360.6 L420.4,1375.0 L422.6,1377.9 L425.5,1377.9 L428.4,1377.9 L429.8,1390.9 L431.2,1401.0 L433.4,1392.3 L435.6,1393.8 L437.7,1388.0 L440.6,1382.2 L443.5,1393.8 L445.6,1386.6 L447.1,1386.6 L449.2,1403.8 L451.1,1413.2 L452.8,1398.1 L454.3,1385.1 L457.2,1386.6 L459.3,1390.9 L461.5,1398.1 L462.9,1412.5 L464.4,1432.6 L467.2,1437.0 L470.1,1442.7 L472.3,1452.8 L474.4,1464.3 L475.9,1473.0 L477.3,1490.3 L479.5,1487.4 L481.6,1468.7 L483.1,1454.3 L484.5,1435.5 L486.0,1421.1 L488.8,1412.5 L491.0,1406.7 L493.2,1401.0 L494.6,1396.6 L496.8,1392.3 L498.2,1380.8 L500.4,1366.4 L501.1,1363.5 L503.2,1376.5 L506.1,1367.8 L509.0,1382.2 L511.9,1393.8 L514.0,1376.5 L515.5,1372.2 L516.9,1380.8 L519.1,1402.4 L522.0,1382.2 L524.9,1386.6 L527.7,1390.9 L529.9,1379.4 L532.1,1390.9 L534.2,1389.4 L537.1,1363.5 L539.3,1366.4 L541.4,1372.2 L543.6,1377.9 L545.0,1356.3 L545.4,1354.2 L548.0,1359.2 L550.1,1373.6 L552.3,1392.3 L554.4,1416.8 L556.6,1439.9 L558.0,1405.3 L560.9,1403.8 L563.8,1405.3 L566.4,1398.1 L568.8,1437.0 L571.7,1444.2 L573.9,1452.8 L576.0,1458.6 L578.2,1462.9 L579.9,1469.4 L581.1,1438.4 L582.5,1409.6 L584.0,1380.8 L584.7,1363.5 L587.6,1344.8 L590.2,1313.1 L591.9,1324.6 L594.0,1337.6 L596.2,1340.5 L598.4,1340.5 L599.8,1323.2 L602.4,1314.6 L604.1,1329.0 L605.6,1341.9 L608.2,1330.4 L610.6,1341.9 L612.8,1362.1 L614.9,1380.8 L617.1,1395.2 L618.8,1406.7 L620.7,1399.5 L623.6,1402.4 L626.4,1405.3 L628.6,1395.2 L631.5,1412.5 L634.4,1406.7 L637.2,1402.4 L639.4,1409.6 L641.6,1398.1 L643.7,1395.2 L645.9,1395.2 L648.0,1408.2 L649.8,1421.1 L653.1,1421.8 L656.0,1419.7 L658.1,1418.2 L661.0,1426.9 L663.9,1426.9 L666.0,1415.4 L667.5,1398.1 L670.4,1390.9 L672.5,1373.6 L674.0,1370.7 L676.1,1382.2 L678.3,1386.6 L679.7,1392.3 L681.6,1415.4 L683.3,1403.8 L685.5,1390.9 L686.9,1405.3 L689.1,1392.3 L692.0,1385.1 L694.9,1386.6 L697.0,1379.4 L699.9,1379.4 L702.1,1377.9 L704.9,1369.3 L707.1,1363.5 L709.3,1360.6 L710.7,1352.0 L712.4,1388.0 L715.0,1380.8 L715.8,1365.0 L718.0,1352.7 L720.1,1366.4 L723.0,1375.0 L725.9,1372.2 L728.8,1377.9 L730.9,1388.0 L733.5,1409.6 L736.0,1390.9 L737.4,1369.3 L738.8,1350.6 L741.0,1357.8 L743.2,1362.1 L746.0,1362.8 L748.9,1363.5 L751.1,1369.3 L754.7,1380.8 L756.8,1392.3 L759.7,1395.2 L762.6,1383.7 L765.5,1373.6 L768.4,1376.5 L770.5,1402.4 L772.0,1389.4 L773.8,1370.7 L775.6,1386.6 L778.4,1399.5 L780.6,1386.6 L783.5,1375.8 L785.6,1386.6 L787.8,1398.1 L791.4,1388.0 L793.6,1389.4 L796.0,1401.0 L797.9,1377.9 L800.0,1366.4 L802.2,1363.5 L804.4,1366.4 L807.2,1332.6 L810.1,1333.3 L812.3,1379.4 L814.4,1375.0 L817.3,1365.0 L818.8,1357.8 L821.6,1359.2 L823.1,1362.1 L825.2,1352.0 L827.4,1363.5 L830.3,1379.4 L833.9,1393.8 L836.0,1408.2 L838.9,1379.4 L841.1,1383.7 L843.2,1398.1 L844.7,1383.7 L846.8,1372.2 L849.0,1380.8 L851.2,1395.2 L854.0,1402.4 L855.5,1413.9 L856.9,1434.1 L859.8,1444.9 L861.2,1424.0 L863.4,1392.3 L864.9,1372.2 L867.7,1376.5 L869.9,1372.2 L872.1,1386.6 L874.9,1388.0 L877.8,1390.9 L880.7,1360.6 L882.4,1393.8 L884.3,1399.5 L885.1,1402.4 L888.0,1413.9 L890.8,1412.5 L893.7,1402.4 L896.3,1383.7 L898.8,1399.5 L900.9,1409.6 L903.1,1441.3 L906.0,1416.8 L908.4,1433.4 L911.0,1422.6 L912.4,1424.0 L914.6,1431.2 L916.8,1409.6 L919.6,1389.4 L921.8,1389.4 L924.7,1380.8 L926.8,1390.9 L929.7,1392.3 L932.3,1406.7 L934.8,1389.4 L937.6,1400.2 L940.5,1399.5 L942.7,1372.2 L944.8,1350.6 L947.7,1352.0 L950.6,1370.7 L952.8,1360.6 L954.9,1359.2 L957.8,1359.2 L959.2,1359.2 L961.4,1370.7 L964.3,1336.2 L965.7,1369.3 L967.9,1362.1 L970.8,1353.4 L974.4,1346.2 L976.5,1363.5 L978.7,1365.0 L980.8,1367.8 L982.3,1381.5 L984.4,1356.3 L987.3,1357.8 L989.5,1380.8 L991.6,1422.6 L994.5,1425.4 L997.4,1432.6 L1001.0,1430.5 L1003.2,1406.7 L1005.3,1393.8 L1006.8,1396.6 L1008.2,1416.8 L1010.4,1409.6 L1013.2,1413.9 L1015.4,1409.6 L1017.6,1395.2 L1019.0,1385.1 L1021.2,1369.3 L1023.3,1395.2 L1026.2,1399.5 L1029.1,1411.0 L1031.2,1386.6 L1032.7,1366.4 L1034.1,1354.9 L1035.6,1369.3 L1037.7,1406.7 L1039.2,1431.9 L1042.1,1421.1 L1044.9,1402.4 L1046.9,1381.4 L1050.4,1369.9 L1053.3,1386.3 L1055.7,1367.4 L1058.0,1380.5" fill="none" stroke="#e02a2a" stroke-width="2.2" stroke-linejoin="round"/>
<path d="M208.7,1409.6 L208.7,1409.6 L211.6,1399.5 L213.0,1412.5 L215.9,1409.6 L218.8,1383.7 L220.9,1388.0 L223.8,1395.2 L226.7,1399.5 L228.8,1383.7 L232.4,1373.6 L235.3,1367.8 L238.2,1370.7 L241.8,1370.0 L244.7,1362.1 L247.6,1363.5 L250.4,1324.6 L253.3,1349.1 L255.5,1334.7 L258.4,1324.6 L260.5,1321.8 L263.4,1330.4 L266.3,1340.5 L268.4,1341.9 L271.3,1322.5 L273.5,1330.4 L275.6,1337.6 L277.8,1352.0 L279.2,1366.4 L281.4,1386.6 L283.6,1382.2 L285.7,1375.0 L287.2,1363.5 L289.3,1357.8 L291.5,1365.0 L294.4,1373.6 L296.5,1377.9 L298.7,1379.4 L300.8,1369.3 L302.3,1406.7 L305.2,1405.3 L307.3,1416.8 L310.2,1428.3 L313.1,1419.0 L315.2,1426.9 L317.4,1392.3 L319.6,1388.0 L321.7,1379.4 L323.2,1370.7 L326.0,1372.2 L328.2,1366.4 L330.4,1373.6 L333.2,1372.2 L335.4,1362.1 L336.8,1345.5 L339.0,1360.6 L341.2,1370.7 L344.0,1380.8 L346.9,1406.7 L349.1,1372.2 L351.2,1372.2 L353.4,1373.6 L355.6,1375.0 L357.7,1372.2 L359.9,1367.8 L361.3,1360.6 L363.2,1344.8 L364.9,1349.1 L367.8,1370.7 L370.0,1366.4 L372.1,1352.0 L374.3,1337.6 L375.8,1336.9 L378.7,1343.4 L381.6,1356.3 L383.7,1387.3 L386.6,1367.8 L388.8,1372.2 L390.9,1376.5 L393.8,1369.3 L396.0,1376.5 L398.8,1382.2 L401.7,1398.8 L404.6,1393.8 L406.8,1376.5 L408.9,1375.0 L411.8,1358.5 L413.2,1369.3 L414.7,1392.3 L417.6,1395.2 L420.4,1399.5 L422.6,1392.3 L425.5,1386.6 L428.4,1379.4 L430.5,1379.4 L432.7,1402.4 L435.6,1389.4 L438.4,1366.4 L440.6,1370.7 L443.5,1377.9 L446.4,1382.2 L448.5,1380.8 L450.7,1390.9 L453.1,1372.2 L455.7,1383.7 L458.6,1372.2 L460.8,1380.8 L462.9,1395.2 L465.1,1395.2 L467.2,1380.8 L470.1,1365.0 L472.3,1392.3 L475.2,1380.8 L477.3,1379.4 L480.2,1395.2 L482.8,1353.4 L485.2,1369.3 L487.4,1363.5 L490.3,1372.2 L491.7,1363.5 L493.9,1363.5 L495.3,1383.7 L498.2,1379.4 L501.1,1366.4 L504.0,1362.1 L506.8,1352.7 L509.0,1363.5 L511.9,1370.7 L514.8,1370.7 L517.6,1369.3 L521.2,1366.4 L524.1,1369.3 L527.0,1380.8 L529.9,1390.9 L532.8,1399.5 L535.7,1398.1 L537.8,1396.6 L540.0,1405.3 L542.9,1409.6 L544.3,1426.9 L545.8,1426.9 L548.0,1416.8 L550.8,1401.0 L553.0,1403.8 L556.6,1413.9 L558.0,1385.1 L560.9,1377.9 L563.8,1379.4 L566.0,1369.3 L568.8,1362.1 L571.0,1353.4 L573.2,1343.4 L574.6,1337.6 L578.2,1329.0 L579.6,1314.6 L581.8,1308.8 L584.7,1294.4 L587.1,1284.3 L589.0,1291.5 L590.4,1301.6 L593.3,1305.9 L596.2,1303.0 L598.4,1304.5 L599.8,1330.4 L602.7,1341.9 L605.6,1353.4 L608.4,1366.4 L610.6,1379.4 L613.5,1382.2 L616.4,1386.6 L619.2,1390.9 L621.1,1372.2 L623.6,1382.2 L626.4,1402.4 L628.6,1388.0 L631.5,1369.3 L634.4,1373.6 L637.2,1366.4 L640.1,1389.4 L643.0,1379.4 L645.9,1386.6 L648.8,1393.8 L650.2,1402.4 L652.4,1393.8 L654.5,1386.6 L657.4,1383.7 L658.8,1383.7 L661.0,1405.3 L663.9,1385.1 L666.8,1366.4 L669.6,1365.0 L671.8,1369.3 L674.0,1376.5 L676.1,1388.0 L679.0,1409.6 L681.2,1403.8 L683.3,1385.1 L684.8,1373.6 L687.6,1367.8 L689.8,1353.4 L692.0,1350.6 L694.1,1363.5 L697.0,1376.5 L699.9,1365.0 L702.1,1380.8 L704.2,1367.8 L706.4,1353.4 L708.5,1344.8 L710.7,1349.1 L712.9,1377.9 L714.3,1352.0 L714.4,1350.6 L715.8,1352.0 L718.0,1369.3 L720.8,1386.6 L723.0,1376.5 L725.9,1369.3 L728.8,1369.3 L731.6,1324.6 L733.8,1333.3 L736.0,1352.0 L738.8,1341.9 L740.3,1352.0 L742.2,1365.0 L744.6,1341.9 L747.5,1349.1 L750.4,1354.9 L752.5,1365.0 L754.7,1341.9 L756.8,1347.7 L759.7,1353.4 L762.6,1350.6 L765.5,1357.8 L768.4,1365.7 L771.2,1359.2 L773.4,1348.4 L775.6,1360.6 L777.7,1372.2 L780.6,1372.2 L782.8,1406.7 L783.5,1409.6 L785.6,1406.7 L787.8,1401.0 L790.0,1392.3 L791.4,1373.6 L793.6,1365.0 L795.7,1361.4 L798.6,1359.9 L801.5,1352.7 L804.4,1365.0 L807.0,1370.7 L808.7,1363.5 L811.6,1352.0 L815.2,1350.6 L817.3,1360.6 L820.2,1365.0 L823.1,1366.4 L826.0,1367.1 L828.8,1372.2 L831.7,1385.1 L833.9,1398.1 L836.0,1402.4 L838.9,1392.3 L841.8,1385.1 L844.0,1377.9 L846.1,1370.7 L849.0,1369.3 L851.2,1365.0 L853.3,1354.9 L855.5,1352.0 L859.1,1347.7 L861.2,1329.0 L864.9,1333.3 L869.2,1339.0 L872.1,1358.5 L874.9,1357.8 L877.1,1340.5 L880.0,1336.2 L882.1,1358.5 L884.3,1343.4 L885.1,1344.8 L888.0,1353.4 L890.8,1367.8 L893.7,1376.5 L896.6,1382.2 L898.8,1366.4 L900.9,1389.4 L903.1,1413.9 L906.0,1413.9 L908.8,1392.3 L911.0,1380.8 L913.9,1373.6 L916.8,1360.6 L919.6,1340.5 L922.5,1352.0 L924.7,1366.4 L926.8,1373.6 L929.0,1370.7 L931.9,1370.7 L934.8,1362.1 L937.6,1367.8 L939.8,1354.9 L942.0,1340.5 L944.8,1334.7 L947.7,1330.4 L950.6,1343.4 L953.5,1321.8 L955.6,1341.9 L958.5,1318.9 L961.4,1320.3 L964.3,1314.6 L966.4,1304.5 L968.9,1301.6 L970.8,1318.9 L972.2,1334.7 L974.4,1339.0 L976.5,1331.8 L980.1,1339.0 L981.6,1357.8 L983.0,1367.8 L985.2,1359.2 L987.3,1380.8 L990.2,1383.7 L992.4,1386.6 L995.2,1382.2 L997.4,1377.9 L1000.3,1393.8 L1003.2,1383.7 L1005.3,1366.4 L1008.2,1362.1 L1010.4,1344.8 L1012.5,1353.4 L1014.0,1346.2 L1016.1,1334.7 L1018.3,1337.6 L1020.4,1349.1 L1023.3,1360.6 L1026.2,1377.9 L1028.4,1389.4 L1031.2,1389.4 L1033.4,1367.8 L1037.0,1365.0 L1040.6,1343.4 L1044.9,1316.7 L1048.0,1329.3 L1050.4,1352.0 L1053.3,1334.6 L1055.7,1355.7 L1058.0,1342.4" fill="none" stroke="#3434a0" stroke-width="2.2" stroke-linejoin="round"/>
<line x1="871" y1="1462.6" x2="905.6" y2="1462.6" stroke="#e02a2a" stroke-width="3.6"/>
<line x1="871" y1="1497" x2="905.6" y2="1497" stroke="#3434a0" stroke-width="3.6"/>
<path d="M173.0,54.3 V1519.3" stroke="#1a1718" stroke-width="3"/>
<path d="M171.5,54.3 H1118.5" stroke="#231f20" stroke-width="2.4"/>
<path d="M1117.3,54.3 V1519.3" stroke="#1a1718" stroke-width="2.4"/>
<path d="M171.5,1519.3 H1118.5" stroke="#231f20" stroke-width="2.6"/>
<path d="M299.6,54.3 v8.5 M299.6,1519.3 v-9 M424.5,54.3 v8.5 M424.5,1519.3 v-9 M549.4,54.3 v8.5 M549.4,1519.3 v-9 M674.3,54.3 v8.5 M674.3,1519.3 v-9 M799.2,54.3 v8.5 M799.2,1519.3 v-9 M924.1,54.3 v8.5 M924.1,1519.3 v-9 M1049.0,54.3 v8.5 M1049.0,1519.3 v-9 M174.5,1519.3 v-9 M173.0,86.9 h8.7 M173.0,120.7 h8.7 M173.0,154.6 h8.7 M173.0,188.4 h8.7 M173.0,222.3 h8.7 M173.0,256.2 h8.7 M173.0,290.0 h8.7 M173.0,323.9 h8.7 M173.0,357.7 h8.7 M173.0,391.6 h8.7 M173.0,418.1 h11 M173.0,484.9 h11 M173.0,551.8 h11 M173.0,618.7 h11 M173.0,685.5 h11 M173.0,737.6 h11 M173.0,806.2 h11 M173.0,873.8 h11 M173.0,940.8 h11 M173.0,1009.2 h11 M173.0,1068.9 h9 M173.0,1150.7 h9 M173.0,1232.9 h9 M173.0,1315.2 h9 M1117.3,418.1 h-9.2 M1117.3,484.9 h-9.2 M1117.3,551.8 h-9.2 M1117.3,618.7 h-9.2 M1117.3,685.5 h-9.2 M1117.3,737.6 h-9.2 M1117.3,806.2 h-9.2 M1117.3,873.8 h-9.2 M1117.3,940.8 h-9.2 M1117.3,1009.2 h-9.2 M1117.3,1266.6 h-7.2 M1117.3,1317.4 h-7.2 M1117.3,1368.2 h-7.2 M1117.3,1419.0 h-7.2 M1117.3,1469.8 h-7.2" stroke="#1a1718" stroke-width="2.2" fill="none"/>
<text x="157.3" y="97.3" font-size="31" text-anchor="end" fill="#231f20" font-family="Liberation Sans, sans-serif" >0.40</text>
<text x="157.3" y="165.1" font-size="31" text-anchor="end" fill="#231f20" font-family="Liberation Sans, sans-serif" >0.20</text>
<text x="157.3" y="232.6" font-size="31" text-anchor="end" fill="#231f20" font-family="Liberation Sans, sans-serif" >0.00</text>
<text x="159.3" y="300.4" font-size="31" text-anchor="end" fill="#231f20" font-family="Liberation Sans, sans-serif" >-0.20</text>
<text x="159.3" y="366.9" font-size="31" text-anchor="end" fill="#231f20" font-family="Liberation Sans, sans-serif" >-0.40</text>
<text x="156.1" y="429.9" font-size="31" text-anchor="end" fill="#231f20" font-family="Liberation Sans, sans-serif" >8.00</text>
<text x="156.1" y="496.7" font-size="31" text-anchor="end" fill="#231f20" font-family="Liberation Sans, sans-serif" >4.00</text>
<text x="156.1" y="563.6" font-size="31" text-anchor="end" fill="#231f20" font-family="Liberation Sans, sans-serif" >0.00</text>
<text x="162.1" y="630.5" font-size="31" text-anchor="end" fill="#231f20" font-family="Liberation Sans, sans-serif" >-4.00</text>
<text x="162.1" y="697.3" font-size="31" text-anchor="end" fill="#231f20" font-family="Liberation Sans, sans-serif" >-8.00</text>
<text x="156.1" y="749.4" font-size="31" text-anchor="end" fill="#231f20" font-family="Liberation Sans, sans-serif" >1.50</text>
<text x="156.1" y="818.0" font-size="31" text-anchor="end" fill="#231f20" font-family="Liberation Sans, sans-serif" >0.75</text>
<text x="156.1" y="885.6" font-size="31" text-anchor="end" fill="#231f20" font-family="Liberation Sans, sans-serif" >0.00</text>
<text x="162.3" y="952.6" font-size="31" text-anchor="end" fill="#231f20" font-family="Liberation Sans, sans-serif" >-0.75</text>
<text x="162.3" y="1021.0" font-size="31" text-anchor="end" fill="#231f20" font-family="Liberation Sans, sans-serif" >-1.50</text>
<text x="154.4" y="1079.1" font-size="31" text-anchor="end" fill="#231f20" font-family="Liberation Sans, sans-serif" >2.00</text>
<text x="154.4" y="1160.9" font-size="31" text-anchor="end" fill="#231f20" font-family="Liberation Sans, sans-serif" >1.00</text>
<text x="154.4" y="1243.1" font-size="31" text-anchor="end" fill="#231f20" font-family="Liberation Sans, sans-serif" >0.00</text>
<text x="156.1" y="1325.4" font-size="31" text-anchor="end" fill="#231f20" font-family="Liberation Sans, sans-serif" >-1.00</text>
<text x="1141.5" y="430.0" font-size="31" text-anchor="start" fill="#575b5b" font-family="Liberation Sans, sans-serif" >0.8</text>
<text x="1141.5" y="496.79999999999995" font-size="31" text-anchor="start" fill="#575b5b" font-family="Liberation Sans, sans-serif" >0.6</text>
<text x="1141.5" y="563.6999999999999" font-size="31" text-anchor="start" fill="#575b5b" font-family="Liberation Sans, sans-serif" >0.4</text>
<text x="1141.5" y="630.6" font-size="31" text-anchor="start" fill="#575b5b" font-family="Liberation Sans, sans-serif" >0.2</text>
<text x="1141.5" y="697.4" font-size="31" text-anchor="start" fill="#575b5b" font-family="Liberation Sans, sans-serif" >0</text>
<text x="1141.5" y="749.5" font-size="31" text-anchor="start" fill="#575b5b" font-family="Liberation Sans, sans-serif" >0.8</text>
<text x="1141.5" y="818.1" font-size="31" text-anchor="start" fill="#575b5b" font-family="Liberation Sans, sans-serif" >0.6</text>
<text x="1141.5" y="885.6999999999999" font-size="31" text-anchor="start" fill="#575b5b" font-family="Liberation Sans, sans-serif" >0.4</text>
<text x="1141.5" y="952.6999999999999" font-size="31" text-anchor="start" fill="#575b5b" font-family="Liberation Sans, sans-serif" >0.2</text>
<text x="1141.5" y="1021.1" font-size="31" text-anchor="start" fill="#575b5b" font-family="Liberation Sans, sans-serif" >0</text>
<text x="1150.5" y="1273.1999999999998" font-size="31" text-anchor="middle" fill="#231f20" font-family="Liberation Sans, sans-serif" >1.5</text>
<text x="1150.5" y="1324.0" font-size="31" text-anchor="middle" fill="#231f20" font-family="Liberation Sans, sans-serif" >1</text>
<text x="1150.5" y="1374.8" font-size="31" text-anchor="middle" fill="#231f20" font-family="Liberation Sans, sans-serif" >0.5</text>
<text x="1150.5" y="1425.6" font-size="31" text-anchor="middle" fill="#231f20" font-family="Liberation Sans, sans-serif" >0</text>
<text x="1150.5" y="1476.3999999999999" font-size="31" text-anchor="middle" fill="#231f20" font-family="Liberation Sans, sans-serif" >-0.5</text>
<text x="1150.5" y="1527.1999999999998" font-size="31" text-anchor="middle" fill="#231f20" font-family="Liberation Sans, sans-serif" >-1</text>
<text x="179.2" y="1551.5" font-size="32" text-anchor="middle" fill="#231f20" font-family="Liberation Sans, sans-serif" >1984</text>
<text x="304.1" y="1551.5" font-size="32" text-anchor="middle" fill="#231f20" font-family="Liberation Sans, sans-serif" >1988</text>
<text x="429.0" y="1551.5" font-size="32" text-anchor="middle" fill="#231f20" font-family="Liberation Sans, sans-serif" >1992</text>
<text x="553.9" y="1551.5" font-size="32" text-anchor="middle" fill="#231f20" font-family="Liberation Sans, sans-serif" >1996</text>
<text x="678.8" y="1551.5" font-size="32" text-anchor="middle" fill="#231f20" font-family="Liberation Sans, sans-serif" >2000</text>
<text x="803.7" y="1551.5" font-size="32" text-anchor="middle" fill="#231f20" font-family="Liberation Sans, sans-serif" >2004</text>
<text x="928.6" y="1551.5" font-size="32" text-anchor="middle" fill="#231f20" font-family="Liberation Sans, sans-serif" >2008</text>
<text x="1053.5" y="1551.5" font-size="32" text-anchor="middle" fill="#231f20" font-family="Liberation Sans, sans-serif" >2012</text>
<text x="187.4" y="94.8" font-size="30.5" text-anchor="start" fill="#231f20" font-family="Liberation Sans, sans-serif" >(a)</text>
<text x="187" y="454.8" font-size="30.5" text-anchor="start" fill="#231f20" font-family="Liberation Sans, sans-serif" >(b)</text>
<text x="181.5" y="776.3" font-size="30.5" text-anchor="start" fill="#231f20" font-family="Liberation Sans, sans-serif" >(c)</text>
<text x="182" y="1157.8" font-size="30.5" text-anchor="start" fill="#231f20" font-family="Liberation Sans, sans-serif" >(d)</text>
<text x="182" y="1354.3" font-size="30.5" text-anchor="start" fill="#231f20" font-family="Liberation Sans, sans-serif" >(e)</text>
<text x="207" y="18.4" font-size="25" text-anchor="start" fill="#231f20" font-family="Liberation Sans, sans-serif" >IOD year</text>
<text x="913" y="1470.4" font-size="27.6" text-anchor="start" fill="#231f20" font-family="Liberation Sans, sans-serif" >eastern region</text>
<text x="913" y="1504.4" font-size="27.6" text-anchor="start" fill="#231f20" font-family="Liberation Sans, sans-serif" >western region</text>
<text transform="translate(23.7,219.4) rotate(-90)" font-size="32" text-anchor="middle" fill="#231f20" font-family="Liberation Sans, sans-serif">Global surface air</text>
<text transform="translate(55.0,221.75) rotate(-90) scale(0.988,1)" font-size="32" text-anchor="middle" fill="#231f20" font-family="Liberation Sans, sans-serif">temperature anomaly (°C)</text>
<text transform="translate(56.2,643.7) rotate(-90) scale(0.972,1)" font-size="32" text-anchor="start" fill="#231f20" font-family="Liberation Sans, sans-serif">SST<tspan font-size="18" dy="4">anom</tspan><tspan dy="-4"> (°C)</tspan></text>
<text transform="translate(56.8,977.5) rotate(-90)" font-size="32" text-anchor="start" fill="#231f20" font-family="Liberation Sans, sans-serif">δ<tspan font-size="19" dy="-11.5">18</tspan><tspan dy="11.5">O</tspan><tspan font-size="19" dy="3.5">sw -anom</tspan><tspan dy="-3.5"> (‰)</tspan></text>
<text transform="translate(55.9,1184) rotate(-90) scale(1.014,1)" font-size="32" text-anchor="middle" fill="#231f20" font-family="Liberation Sans, sans-serif">Dipole mode index</text>
<text transform="translate(1214.8,550.2) rotate(-90)" font-size="32" text-anchor="middle" fill="#575b5b" font-family="Liberation Sans, sans-serif">Regime shift index</text>
<text transform="translate(1246.7,623.0) rotate(-90)" font-size="32" text-anchor="start" fill="#575b5b" font-family="Liberation Sans, sans-serif">of SST<tspan font-size="18" dy="4">anom</tspan></text>
<text transform="translate(1208.9,872.0) rotate(-90)" font-size="32" text-anchor="middle" fill="#575b5b" font-family="Liberation Sans, sans-serif">Regime shift index</text>
<text transform="translate(1240.4,963.6) rotate(-90)" font-size="32" text-anchor="start" fill="#575b5b" font-family="Liberation Sans, sans-serif">of δ<tspan font-size="19" dy="-11.5">18</tspan><tspan dy="11.5">O</tspan><tspan font-size="19" dy="3.5">sw -anom</tspan></text>
<text transform="translate(1208.9,1389.9) rotate(-90)" font-size="32" text-anchor="middle" fill="#231f20" font-family="Liberation Sans, sans-serif">SST anomaly</text>
<text transform="translate(1240.9,1389.9) rotate(-90) scale(0.968,1)" font-size="32" text-anchor="middle" fill="#231f20" font-family="Liberation Sans, sans-serif">in IOD regions (°C)</text>
</svg>
</body></html>
